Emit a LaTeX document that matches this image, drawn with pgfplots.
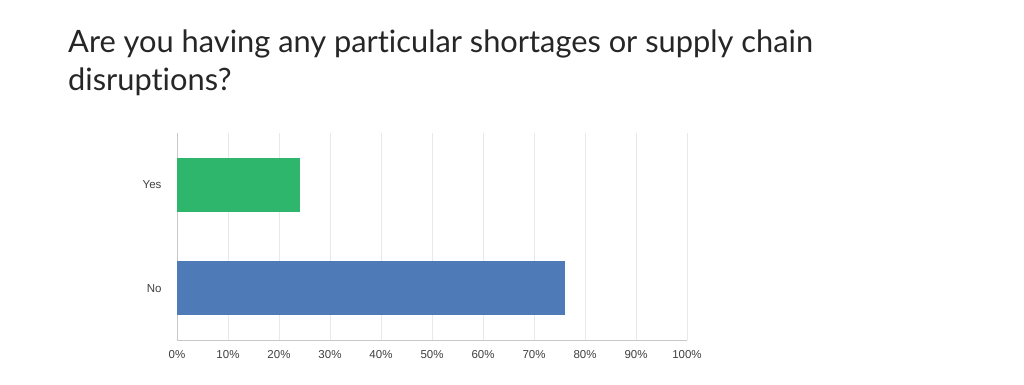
\documentclass[border=0pt]{standalone}
\usepackage{pgfplots}
\pgfplotsset{compat=1.18}
\usepackage{fontspec}
\setmainfont[Ligatures={NoCommon}]{Lato}
\newfontfamily\tickfont{Liberation Sans}
\definecolor{barGreen}{RGB}{45,182,108}
\definecolor{barBlue}{RGB}{78,122,184}
\definecolor{gridGray}{RGB}{232,232,232}
\definecolor{axGray}{RGB}{200,200,200}
\begin{document}
\begin{tikzpicture}[x=1bp,y=1bp]
\path[use as bounding box,fill=white] (0,0) rectangle (1024,384);
\node[anchor=base west,inner sep=0pt,font=\fontsize{30.8bp}{36bp}\selectfont,text=black!85] at (68,384-52) {Are you having any particular shortages or supply chain};
\node[anchor=base west,inner sep=0pt,font=\fontsize{30.8bp}{36bp}\selectfont,text=black!85] at (68,384-90) {disruptions?};
\begin{axis}[
  at={(177bp,44bp)}, anchor=south west,
  width=510bp, height=207bp, scale only axis,
  xbar, bar width=54bp, bar shift=0pt,
  xmin=0, xmax=100, ymin=-0.5, ymax=1.5,
  xtick={0,10,...,100},
  xticklabel={\pgfmathprintnumber{\tick}\%},
  ytick={0,1}, yticklabels={No,Yes},
  xmajorgrids, grid style={gridGray, line width=0.6pt},
  axis x line*=bottom, axis y line*=left,
  axis line style={axGray, line width=0.8pt},
  x axis line style={-}, y axis line style={-},
  major tick length=0pt,
  tick label style={font=\tickfont\fontsize{11.5bp}{13bp}\selectfont, text=black!75},
  /pgf/number format/assume math mode=true,
  xticklabel style={yshift=-7bp},
  yticklabel style={xshift=-12bp},
  clip=false,
]
\addplot[fill=barGreen, draw=none, bar shift=0pt] coordinates {(24.2,1)};
\addplot[fill=barBlue, draw=none, bar shift=0pt] coordinates {(76.1,0)};
\end{axis}
\end{tikzpicture}
\end{document}
